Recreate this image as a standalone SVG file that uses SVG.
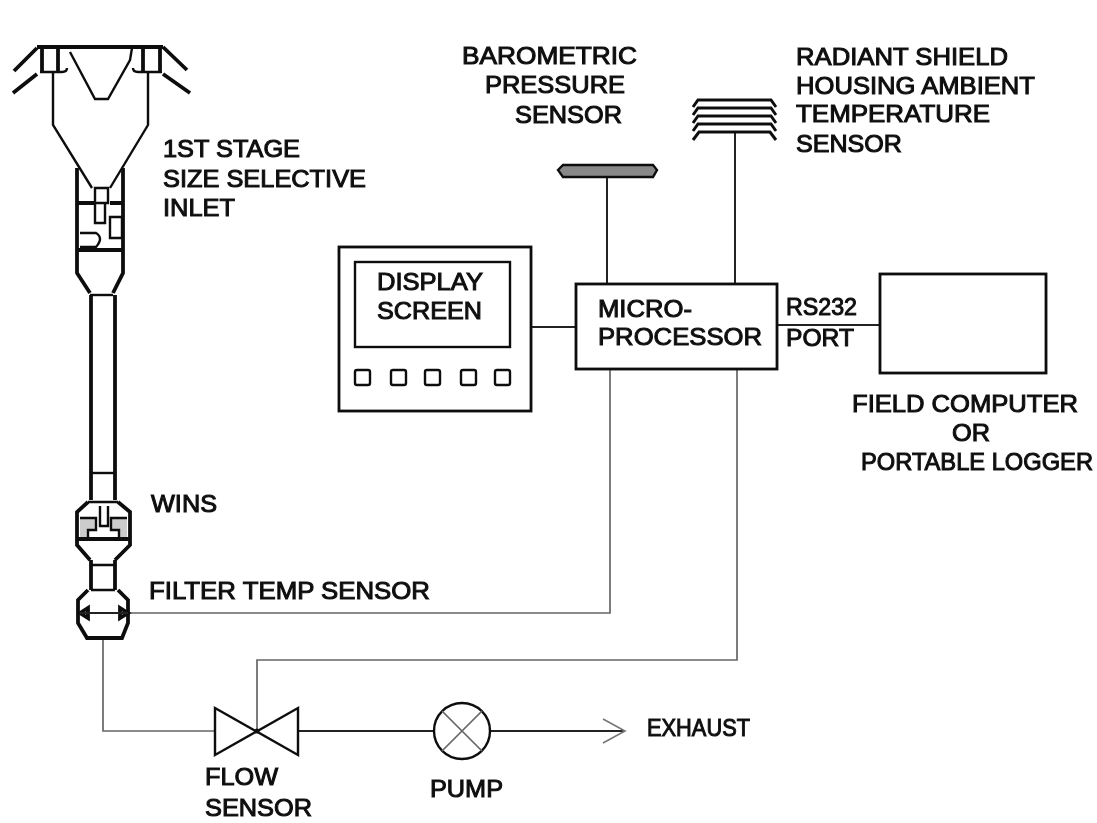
<svg xmlns="http://www.w3.org/2000/svg" width="1097" height="823" viewBox="0 0 1097 823">
<defs>
<filter id="soft" x="-5%" y="-5%" width="110%" height="110%"><feGaussianBlur stdDeviation="0.6"/></filter>
<marker id="open" markerUnits="userSpaceOnUse" markerWidth="28" markerHeight="30" refX="24" refY="15" orient="auto"><path d="M2 3 L24 15 L2 27" fill="none" stroke="#777" stroke-width="1.6"/></marker>
</defs>
<style>
text{font-family:"Liberation Sans",Arial,sans-serif;font-size:24px;fill:#111;stroke:#111;stroke-width:1px}
.s{fill:none;stroke:#111;stroke-width:2.4}
.t{fill:none;stroke:#111;stroke-width:3.8}
.m{fill:none;stroke:#222;stroke-width:2}
.w{fill:none;stroke:#666;stroke-width:1.7}
.b{fill:#fff;stroke:#111;stroke-width:2.8}
</style>
<rect width="1097" height="823" fill="#fff"/>
<g filter="url(#soft)">
<g id="connectors">
<path class="m" d="M607 177V284"/>
<path class="m" d="M735 133V284"/>
<path class="m" d="M531 327H576"/>
<path class="m" d="M777 325H880"/>
<path class="w" d="M610 369V613H128"/>
<path class="w" d="M737 369V660H257V731"/>
<path class="w" d="M103 638V731H215"/>
<path class="m" d="M298 731H434"/>
<path class="m" d="M490 731H625" marker-end="url(#open)"/>
</g>
<g id="inlet">
<path class="t" d="M37 47H163"/>
<path class="t" d="M14 71L37 48M13 93L37 74M163 47L187 70M163 74L190 93"/>
<path class="t" d="M42 47V73M58 47V73M143 47V73M160 47V73"/>
<path class="s" d="M40 72H62Q67 72 67 68M162 72H138Q133 72 133 68"/>
<path class="s" d="M70 52L95 99H108L130 60L132 48"/>
<path class="s" d="M53 73V125L92 188M148 73V125L110 188"/>
<path class="t" d="M77 168V273L90 293M123 168V273L113 293"/>
<path class="t" d="M77 203H95M110 203H123M77 250H123"/>
<path class="s" d="M95 188H108V203H95ZM95 203V223H105V203M110 217H122V238H110ZM80 233H96Q104 238 96 247H80"/>
<path class="s" d="M90 295H113"/>
<path class="t" d="M91 295V500M115 295V500"/>
<path class="s" d="M91 473H115"/>
</g>
<g id="wins">
<path d="M80 518H96V530H88V538H80ZM127 518H111V530H119V538H127Z" fill="#ccc"/>
<path class="t" d="M88 502L77 512V545L90 560M118 502L130 512V545L115 560M77 539H130"/>
<path class="s" d="M88 502H118M80 518H96V530H88V538M127 518H111V530H119V538M100 506V526H108V506"/>
<path class="t" d="M91 560V590M115 560V590"/>
<path class="s" d="M91 565H115M91 590H115"/>
<text x="151" y="512" textLength="66" lengthAdjust="spacingAndGlyphs">WINS</text>
</g>
<g id="filter">
<path class="t" d="M88 590L78 600V623L87 638H122L128 623V600L118 590"/>
<path class="t" d="M80 613L88 608V618ZM128 613L120 608V618Z"/>
<path class="m" d="M80 613H128"/>
<text x="149" y="599" textLength="281" lengthAdjust="spacingAndGlyphs">FILTER TEMP SENSOR</text>
</g>
<g id="inlet-label">
<text x="163" y="157" textLength="137" lengthAdjust="spacingAndGlyphs">1ST STAGE</text>
<text x="163" y="187" textLength="203" lengthAdjust="spacingAndGlyphs">SIZE SELECTIVE</text>
<text x="163" y="216" textLength="72" lengthAdjust="spacingAndGlyphs">INLET</text>
</g>
<g id="barometric">
<path d="M558 170L563 165H653L657 170L653 177H563Z" fill="#888" stroke="#111" stroke-width="2.4"/>
<text x="462" y="64" textLength="175" lengthAdjust="spacingAndGlyphs">BAROMETRIC</text>
<text x="485" y="93" textLength="140" lengthAdjust="spacingAndGlyphs">PRESSURE</text>
<text x="515" y="123" textLength="107" lengthAdjust="spacingAndGlyphs">SENSOR</text>
</g>
<g id="radiant">
<path d="M693 107L698 100H771L776 107M693 115L698 108H771L776 115M693 123L698 116H771L776 123M693 131L698 124H771L776 131M693 140L699 132H770L776 140" fill="none" stroke="#111" stroke-width="3"/>
<text x="796" y="65" textLength="212" lengthAdjust="spacingAndGlyphs">RADIANT SHIELD</text>
<text x="796" y="94" textLength="239" lengthAdjust="spacingAndGlyphs">HOUSING AMBIENT</text>
<text x="796" y="122" textLength="194" lengthAdjust="spacingAndGlyphs">TEMPERATURE</text>
<text x="796" y="152" textLength="106" lengthAdjust="spacingAndGlyphs">SENSOR</text>
</g>
<g id="display">
<rect class="b" x="339" y="247" width="192" height="164"/>
<rect class="s" x="355" y="262" width="155" height="85"/>
<rect class="s" x="355" y="370" width="15" height="15" rx="2"/>
<rect class="s" x="391" y="370" width="15" height="15" rx="2"/>
<rect class="s" x="425" y="370" width="15" height="15" rx="2"/>
<rect class="s" x="461" y="370" width="15" height="15" rx="2"/>
<rect class="s" x="495" y="370" width="15" height="15" rx="2"/>
<text x="377" y="290" textLength="106" lengthAdjust="spacingAndGlyphs">DISPLAY</text>
<text x="377" y="319" textLength="105" lengthAdjust="spacingAndGlyphs">SCREEN</text>
</g>
<g id="microprocessor">
<rect class="b" x="576" y="284" width="201" height="85"/>
<text x="598" y="317" textLength="94" lengthAdjust="spacingAndGlyphs">MICRO-</text>
<text x="598" y="345" textLength="164" lengthAdjust="spacingAndGlyphs">PROCESSOR</text>
</g>
<g id="rs232">
<text x="786" y="315" textLength="71" lengthAdjust="spacingAndGlyphs">RS232</text>
<text x="786" y="346" textLength="68" lengthAdjust="spacingAndGlyphs">PORT</text>
</g>
<g id="computer">
<rect class="b" x="880" y="274" width="166" height="99"/>
<text x="852" y="412" textLength="226" lengthAdjust="spacingAndGlyphs">FIELD COMPUTER</text>
<text x="952" y="441" textLength="38" lengthAdjust="spacingAndGlyphs">OR</text>
<text x="861" y="470" textLength="232" lengthAdjust="spacingAndGlyphs">PORTABLE LOGGER</text>
</g>
<g id="flow-sensor">
<path class="s" d="M215 708L298 755V708L215 755Z"/>
<circle cx="257" cy="731" r="2.5" fill="#111"/>
<text x="205" y="785" textLength="73" lengthAdjust="spacingAndGlyphs">FLOW</text>
<text x="205" y="816" textLength="107" lengthAdjust="spacingAndGlyphs">SENSOR</text>
</g>
<g id="pump">
<circle class="s" cx="462" cy="731" r="28"/>
<path class="w" d="M442 711L482 751M482 711L442 751"/>
<text x="430" y="797" textLength="73" lengthAdjust="spacingAndGlyphs">PUMP</text>
</g>
<g id="exhaust">
<text x="647" y="736" textLength="103" lengthAdjust="spacingAndGlyphs">EXHAUST</text>
</g>
</g>
</svg>
